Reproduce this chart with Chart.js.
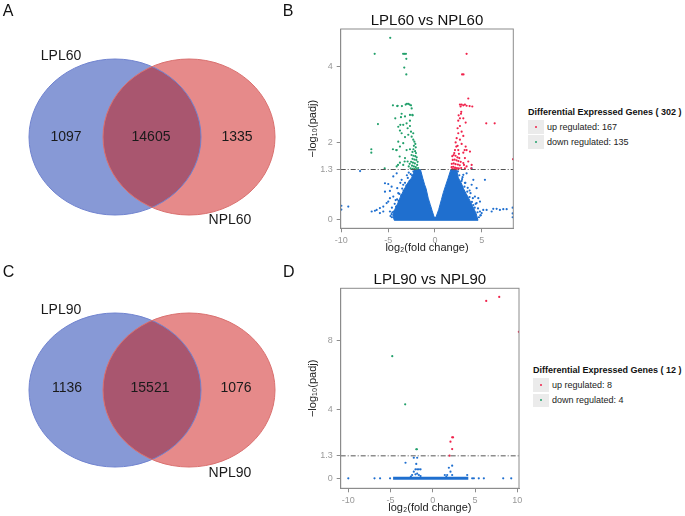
<!DOCTYPE html>
<html>
<head>
<meta charset="utf-8">
<script src="https://cdn.jsdelivr.net/npm/chart.js@4.4.1/dist/chart.umd.min.js"></script>
<style>
body { margin: 0; background: #fff; font-family: "Liberation Sans", Arial, sans-serif; }
#wrap { position: relative; width: 685px; height: 516px; overflow: hidden; }
.cv { position: absolute; }
.letter { position: absolute; font-size: 16px; line-height: 16px; color: #111; }
.lgt { position: absolute; font-size: 9px; line-height: 12px; font-weight: bold; color: #111; white-space: nowrap; }
.lgi { position: absolute; font-size: 9px; line-height: 12px; color: #222; white-space: nowrap; }
.lgbox { position: absolute; width: 15.5px; height: 13.5px; background: #ebebeb; }
.lgdot { position: absolute; width: 2px; height: 2px; border-radius: 1px; left: 6.8px; top: 5.8px; }
</style>
</head>
<body>
<div id="wrap">
  <div class="cv" style="left:0;top:0"><canvas id="vennA" width="300" height="258"></canvas></div>
  <div class="cv" style="left:0;top:260px"><canvas id="vennC" width="300" height="256"></canvas></div>
  <div class="cv" style="left:300px;top:0"><canvas id="volB" width="222" height="258"></canvas></div>
  <div class="cv" style="left:300px;top:260px"><canvas id="volD" width="227" height="256"></canvas></div>
  <div class="letter" style="left:2.7px;top:3px">A</div>
  <div class="letter" style="left:282.7px;top:3px">B</div>
  <div class="letter" style="left:2.7px;top:264px">C</div>
  <div class="letter" style="left:283px;top:264px">D</div>
  <div id="legB"></div>
  <div id="legD"></div>
</div>
<script>
// Venn counts: [only first set, shared, only second set]
const setsA = ['LPL60', 'NPL60'];
const countsA = [1097, 14605, 1335];
const setsC = ['LPL90', 'NPL90'];
const countsC = [1136, 15521, 1076];

// Volcano B (LPL60 vs NPL60): [log2 fold change, -log10 padj]
const titleB = 'LPL60 vs NPL60';
const xTicksB = [-10, -5, 0, 5];
const yTicksB = [0, 1.3, 2, 4];
const upB = 167;
const downB = 135;
const upPtsB = [
    [3.38,4.33],[2.9,3.79],[3.05,3.79],[3.56,3.16],[2.67,3.0],[2.85,3.0],[3.03,2.98],[3.2,3.0],[2.74,2.95],
    [3.38,2.97],[3.7,2.96],[3.99,2.95],[2.81,2.81],[2.78,2.76],[2.53,2.72],[5.48,2.51],[6.38,2.51],
    [3.03,2.64],[2.67,2.64],[3.28,2.53],[2.49,2.58],[2.67,2.44],[2.42,2.38],[2.85,2.29],[2.49,2.25],
    [3.03,2.18],[2.32,2.12],[2.67,2.08],[2.21,2.01],[2.85,1.97],[2.42,1.92],[2.28,1.9],[3.28,1.9],
    [3.38,1.81],[3.74,1.77],[3.03,1.74],[3.17,1.81],[2.14,1.81],[2.49,1.81],[2.06,1.73],[2.56,1.71],
    [3.2,1.6],[3.56,1.51],[3.03,1.47],[3.38,1.38],[3.92,1.42],[3.2,1.33],[3.88,1.33],[3.1,1.42],
    [1.85,1.65],[2.0,1.68],[2.2,1.66],[2.4,1.62],[2.6,1.6],[1.9,1.55],[2.1,1.56],[2.3,1.54],[2.5,1.52],
    [2.75,1.5],[1.8,1.45],[2.0,1.46],[2.2,1.44],[2.45,1.43],[2.65,1.41],[1.78,1.36],[1.95,1.37],
    [2.15,1.35],[2.35,1.34],[2.55,1.33],[2.8,1.34],[1.85,1.31],[2.05,1.31],[2.25,1.31],[2.5,1.31],
    [8.35,1.57]
];
const downPtsB = [
    [-4.78,4.75],[-6.44,4.33],[-3.4,4.33],[-3.24,4.33],[-3.1,4.33],[-3.06,4.2],[-3.28,3.97],[-3.06,3.79],
    [-4.49,2.98],[-4.03,2.96],[-3.53,2.96],[-3.13,3.0],[-3.0,3.02],[-2.85,3.02],[-2.71,3.0],[-2.56,2.98],
    [-3.99,2.97],[-2.49,2.9],[-2.42,2.73],[-2.67,2.73],[-3.2,2.69],[-3.56,2.76],[-3.63,2.67],[-2.38,2.72],
    [-6.09,2.49],[-4.24,2.64],[-3.7,2.47],[-2.67,2.58],[-3.03,2.51],[-3.39,2.47],[-2.67,2.44],[-2.92,2.38],
    [-3.74,2.32],[-3.56,2.25],[-3.92,2.42],[-2.56,2.29],[-2.32,2.25],[-2.49,2.16],[-3.2,2.15],[-2.85,2.21],
    [-2.32,2.08],[-2.2,2.03],[-2.1,1.97],[-2.25,1.92],[-2.05,1.88],[-2.3,1.83],[-2.12,1.78],[-2.4,1.76],
    [-2.03,1.73],[-3.92,2.03],[-3.74,1.9],[-4.09,1.81],[-3.39,1.99],[-3.03,1.81],[-2.67,1.83],[-4.49,1.83],
    [-4.13,1.81],[-3.77,1.64],[-3.95,1.42],[-5.37,1.33],[-3.24,1.51],[-6.8,1.83],[-6.8,1.74],
    [-3.2,1.6],[-3.74,1.48],[-2.92,1.51],[-3.39,1.42],[-4.09,1.38],
    [-2.5,1.68],[-2.3,1.66],[-2.1,1.65],[-1.95,1.62],[-2.4,1.58],[-2.2,1.56],[-2.0,1.55],[-1.85,1.5],
    [-2.55,1.5],[-2.35,1.48],[-2.15,1.46],[-1.9,1.42],[-2.45,1.4],[-2.25,1.38],[-2.05,1.36],[-1.8,1.34],
    [-2.6,1.33],[-2.38,1.32],[-2.18,1.31],[-1.98,1.31],[-2.7,1.45],[-2.8,1.38]
];
const nsPtsB = [
    [-10.0,0.35],[-10.0,0.25],[-9.26,0.33],[-8.0,1.26],[-6.76,0.2],[-6.41,0.22],[-6.23,0.24],[-5.88,0.16],
    [-5.88,0.29],[-5.52,0.2],[-5.52,0.33],[-5.16,0.42],[-5.34,0.94],[-4.99,0.92],[-4.63,0.85],[-4.81,0.74],
    [-5.34,0.72],[-4.45,1.12],[-4.09,1.2],[-3.56,1.03],[-3.39,0.9],[-4.81,0.55],[-4.99,0.46],[-4.45,0.59],
    [-3.92,0.68],[-4.03,0.81],[-4.81,0.2],[-4.63,0.13],[-3.0,1.15],[-2.8,1.22],[-3.7,0.95],[-4.2,0.5],
    [-4.6,0.3],[3.92,1.33],[3.38,1.2],[3.03,1.16],[4.1,1.03],[3.92,0.9],[4.45,0.81],[5.34,1.03],
    [4.27,0.59],[4.63,0.55],[4.81,0.46],[4.45,0.42],[4.1,0.37],[5.16,0.24],[5.52,0.24],[6.23,0.27],
    [6.59,0.27],[7.3,0.26],[7.66,0.26],[6.94,0.24],[4.81,0.2],[4.99,0.16],[6.06,0.2],[2.9,1.05],
    [3.2,0.95],[3.7,0.75],[4.9,0.1],[8.3,0.15],[8.3,0.3],[8.3,0.05],
    [-4.6,0.05],[-4.4,0.2],[-4.15,0.33],[-3.9,0.48],[-3.6,0.62],[-3.35,0.75],[-3.05,0.88],[-2.7,1.0],
    [-2.45,1.15],[-2.3,1.25],[-4.75,0.08],[-4.55,0.18],[-4.3,0.4],[-4.05,0.52],[-3.8,0.66],[-3.5,0.8],
    [-3.2,0.95],[-2.9,1.08],[-2.6,1.18],
    [4.7,0.05],[4.55,0.18],[4.25,0.3],[3.95,0.45],[3.7,0.58],[3.45,0.72],[3.15,0.85],[2.85,1.0],
    [2.6,1.15],[2.45,1.25],[4.85,0.1],[4.6,0.28],[4.35,0.4],[4.05,0.55],[3.8,0.68],[3.5,0.82],
    [3.25,0.95],[2.95,1.1]
];
// outline of the solid blue V where points overlap completely
const nsBodyB = [
    [-4.35,-0.03],[-4.5,0.1],[-4.3,0.25],[-4.0,0.4],[-3.75,0.55],[-3.5,0.68],[-3.2,0.82],[-2.9,0.95],
    [-2.5,1.08],[-2.3,1.2],[-2.15,1.3],[-1.55,1.3],[-1.3,1.07],[-1.1,0.9],[-0.95,0.8],[-0.72,0.55],
    [-0.5,0.38],[-0.3,0.22],[-0.12,0.08],[0,0.02],[0.15,0.08],[0.4,0.25],[0.7,0.52],[0.9,0.7],
    [1.1,0.85],[1.4,1.07],[1.7,1.3],[2.3,1.3],[2.5,1.08],[2.8,0.95],[3.05,0.8],[3.3,0.68],[3.6,0.55],
    [4.0,0.35],[4.4,0.15],[4.6,-0.03],[-4.35,-0.03]
];

// Volcano D (LPL90 vs NPL90)
const titleD = 'LPL90 vs NPL90';
const xTicksD = [-10, -5, 0, 5, 10];
const yTicksD = [0, 1.3, 4, 8];
const upD = 8;
const downD = 4;
const upPtsD = [[6.32,10.27],[7.86,10.5],[10.18,8.48],[2.29,2.37],[2.4,2.37],[2.09,2.12],[2.29,1.69],[1.98,1.31]];
const downPtsD = [[-4.8,7.07],[-3.27,4.28],[-1.96,1.68],[-1.88,1.68]];
const nsPtsD = [
    [-10,0],[-6.9,0],[-6.24,0],[-5.06,0],[4.66,0],[4.86,0],[5.44,0],[6.04,0],[8.33,0],[9.28,0],
    [-3.23,0.9],[-2.25,1.19],[-1.85,1.19],[-1.96,0.83],[-2.05,0.52],[-1.85,0.52],[-1.65,0.52],[-1.45,0.52],
    [-2.25,0.38],[-1.85,0.27],[-2.05,0.23],[-1.65,0.19],[-1.45,0.13],[-2.45,0.19],[-2.6,0.1],
    [2.29,0.73],[1.9,0.61],[2.09,0.38],[1.7,0.19],[1.42,0.19],[2.29,0.19],[4.07,0.19],[1.6,0.08]
];
// run of overlapping points lying on padj = 1
const nsBodyD = [[-4.7,0],[4.2,0]];

const BLUE = '#1f6fcf';
const GREEN = '#22a06b';
const RED = '#f0224b';
const FONT = '"Liberation Sans", Arial, sans-serif';

const toXY = arr => arr.map(p => ({ x: p[0], y: p[1] }));

// ---------- Venn ----------
function renderVenn(id, sets, counts, g) {
    const vennPlugin = {
        id: 'venn',
        afterDraw(chart) {
            const ctx = chart.ctx;
            const xs = chart.scales.x, ys = chart.scales.y;
            const px = v => xs.getPixelForValue(v), py = v => ys.getPixelForValue(v);
            const rx = px(g.rx) - px(0), ry = py(g.ry) - py(0);
            const shape = c => { ctx.beginPath(); ctx.ellipse(px(c[0]), py(c[1]), rx, ry, 0, 0, Math.PI * 2); };
            ctx.save();
            shape(g.c1); ctx.fillStyle = '#8799d6'; ctx.fill();
            shape(g.c2); ctx.fillStyle = '#e68a8a'; ctx.fill();
            ctx.save();
            shape(g.c1); ctx.clip();
            shape(g.c2); ctx.fillStyle = '#a9566f'; ctx.fill();
            ctx.restore();
            ctx.lineWidth = 1;
            shape(g.c1); ctx.strokeStyle = '#7083cf'; ctx.stroke();
            shape(g.c2); ctx.strokeStyle = '#d9706f'; ctx.stroke();

            ctx.fillStyle = '#1a1a1a';
            ctx.textAlign = 'center';
            ctx.textBaseline = 'middle';
            ctx.font = '14px ' + FONT;
            ctx.fillText(sets[0], px(g.name1[0]), py(g.name1[1]));
            ctx.fillText(sets[1], px(g.name2[0]), py(g.name2[1]));
            counts.forEach((n, i) => ctx.fillText(String(n), px(g.counts[i]), py(g.countY)));
            ctx.restore();
        }
    };
    const cv = document.getElementById(id);
    new Chart(cv.getContext('2d'), {
        type: 'scatter',
        data: { datasets: [] },
        options: {
            responsive: false, animation: false, events: [],
            layout: { padding: 0 },
            plugins: { legend: { display: false }, tooltip: { enabled: false } },
            scales: {
                x: { type: 'linear', min: 0, max: cv.width, display: false },
                y: { type: 'linear', min: 0, max: cv.height, reverse: true, display: false }
            }
        },
        plugins: [vennPlugin]
    });
}

renderVenn('vennA', setsA, countsA, {
    c1: [115, 137], c2: [189, 137], rx: 86, ry: 78,
    name1: [61, 56], name2: [230, 220], counts: [66, 151, 237], countY: 137
});
renderVenn('vennC', setsC, countsC, {
    c1: [115, 130], c2: [189, 130], rx: 86, ry: 77,
    name1: [61, 50], name2: [230, 213], counts: [67, 150, 236], countY: 128.5
});

// ---------- Volcano ----------
const framePlugin = {
    id: 'frame',
    afterDraw(chart) {
        const a = chart.chartArea, ctx = chart.ctx;
        ctx.save();
        ctx.strokeStyle = '#8c8c8c';
        ctx.lineWidth = 1;
        ctx.strokeRect(a.left, a.top, a.right - a.left, a.bottom - a.top);
        ctx.restore();
    }
};

function renderVolcano(id, o) {
    const pt = { pointRadius: 1.1, pointBorderWidth: 0, showLine: false };
    const datasets = [
        { data: [{ x: o.xmin, y: 1.3 }, { x: o.xmax, y: 1.3 }], showLine: true, borderColor: '#555',
          borderWidth: 1, borderDash: [5, 2, 1, 2], pointRadius: 0 },
        Object.assign({ data: toXY(o.up), backgroundColor: RED }, pt),
        Object.assign({ data: toXY(o.down), backgroundColor: GREEN }, pt),
        Object.assign({ data: toXY(o.ns), backgroundColor: BLUE }, pt),
        Object.assign({ data: toXY(o.body), showLine: true, borderColor: BLUE, pointRadius: 0 }, o.bodyStyle)
    ];
    const tickFont = { size: 9, family: FONT };
    new Chart(document.getElementById(id).getContext('2d'), {
        type: 'scatter',
        data: { datasets },
        options: {
            responsive: false, animation: false, events: [],
            layout: { padding: { right: o.padRight, left: 0, top: 0, bottom: 0 } },
            plugins: {
                legend: { display: false },
                tooltip: { enabled: false },
                title: {
                    display: true, text: o.title, fullSize: false, color: '#111',
                    font: { size: 15, family: FONT, weight: 'normal', lineHeight: 1 },
                    padding: o.titlePad
                }
            },
            scales: {
                x: {
                    type: 'linear', min: o.xmin, max: o.xmax,
                    afterBuildTicks: s => { s.ticks = o.xTicks.map(v => ({ value: v })); },
                    afterFit: s => { s.height = o.xAxisH; },
                    ticks: { font: tickFont, color: '#999', padding: 3, maxRotation: 0, autoSkip: false, callback: v => String(v) },
                    grid: { drawOnChartArea: false, tickLength: 4, color: '#8c8c8c' },
                    border: { color: '#8c8c8c' },
                    title: { display: true, text: 'log₂(fold change)', color: '#222',
                             font: { size: 11, family: FONT }, padding: { top: 0, bottom: o.xTitlePad } }
                },
                y: {
                    type: 'linear', min: o.ymin, max: o.ymax,
                    afterBuildTicks: s => { s.ticks = o.yTicks.map(v => ({ value: v })); },
                    afterFit: s => { s.width = 40.7; },
                    ticks: { font: tickFont, color: '#999', padding: 4, autoSkip: false, callback: v => String(v) },
                    grid: { drawOnChartArea: false, tickLength: 4, color: '#8c8c8c' },
                    border: { color: '#8c8c8c' },
                    title: { display: true, text: '−log₁₀(padj)', color: '#222',
                             font: { size: 11, family: FONT }, padding: { top: 6.7, bottom: 0 } }
                }
            }
        },
        plugins: [framePlugin]
    });
}

renderVolcano('volB', {
    title: titleB, xTicks: xTicksB, yTicks: yTicksB, xmin: -10.07, xmax: 8.37, ymin: -0.24, ymax: 4.98,
    up: upPtsB, down: downPtsB, ns: nsPtsB, body: nsBodyB,
    bodyStyle: { fill: 'shape', backgroundColor: BLUE, borderWidth: 1 },
    padRight: 8.7, titlePad: { top: 13.5, bottom: 0.5 }, xAxisH: 29.7, xTitlePad: 3.1
});
renderVolcano('volD', {
    title: titleD, xTicks: xTicksD, yTicks: yTicksD, xmin: -10.9, xmax: 10.2, ymin: -0.58, ymax: 11.0,
    up: upPtsD, down: downPtsD, ns: nsPtsD, body: nsBodyD,
    bodyStyle: { borderWidth: 3 },
    padRight: 8, titlePad: { top: 12.5, bottom: 0.8 }, xAxisH: 27.7, xTitlePad: 1.1
});

// ---------- legends (html text) ----------
function renderLegend(id, left, titleY, up, down) {
    const el = document.getElementById(id);
    const items = [['up regulated: ' + up, RED], ['down regulated: ' + down, GREEN]];
    let html = `<div class="lgt" style="left:${left}px;top:${titleY - 5.9}px">Differential Expressed Genes ( ${up + down} )</div>`;
    items.forEach((it, i) => {
        const boxTop = titleY + 8.3 + i * 15.3;
        html += `<div class="lgbox" style="left:${left}px;top:${boxTop}px"><span class="lgdot" style="background:${it[1]}"></span></div>`;
        html += `<div class="lgi" style="left:${left + 19}px;top:${boxTop + 6.75 - 5.9}px">${it[0]}</div>`;
    });
    el.innerHTML = html;
}
renderLegend('legB', 528, 111.7, upB, downB);
renderLegend('legD', 533, 370, upD, downD);
</script>
</body>
</html>
